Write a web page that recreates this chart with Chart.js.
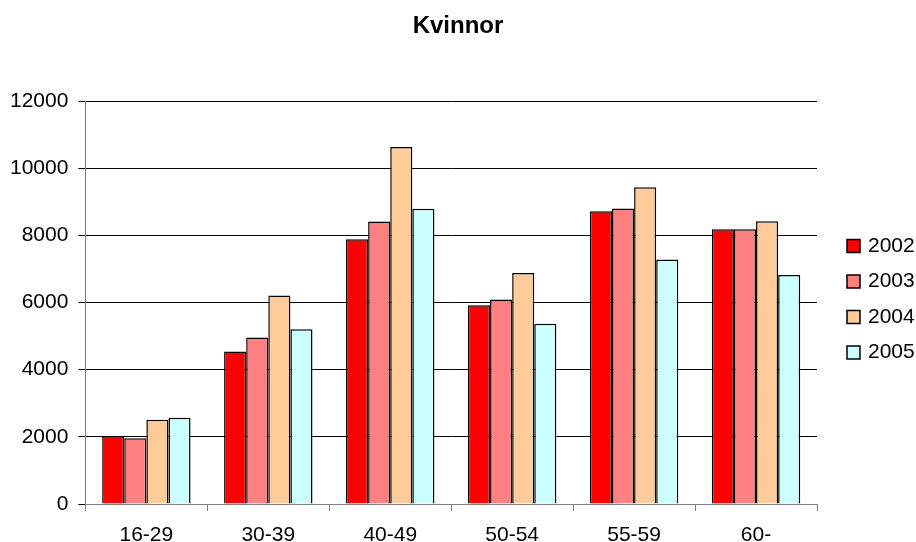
<!DOCTYPE html>
<html>
<head>
<meta charset="utf-8">
<script src="https://cdn.jsdelivr.net/npm/chart.js@4/dist/chart.umd.min.js"></script>
<style>
  html, body { margin: 0; padding: 0; background: #fff; }
  #wrap { width: 916px; height: 542px; }
</style>
</head>
<body>
<div id="wrap"><canvas id="myChart" width="916" height="542"></canvas></div>
<script>
// data
const categories = ['16-29', '30-39', '40-49', '50-54', '55-59', '60-'];
const years = ['2002', '2003', '2004', '2005'];
const values2002 = [2020, 4540, 7880, 5920, 8720, 8180];
const values2003 = [1960, 4960, 8410, 6090, 8800, 8180];
const values2004 = [2510, 6210, 10630, 6880, 9430, 8420];
const values2005 = [2570, 5200, 8790, 5370, 7280, 6820];
const yTicks = [0, 2000, 4000, 6000, 8000, 10000, 12000];
const titleText = 'Kvinnor';

const colors = ['#ff0000', '#ff8080', '#ffcc99', '#ccffff'];
const font = 'Arial, "Liberation Sans", sans-serif';

// title centred on the whole canvas + legend on the right, drawn by hand
const sideLegend = {
    id: 'sideLegend',
    afterDraw(chart) {
        const ctx = chart.ctx;
        ctx.save();
        ctx.fillStyle = '#000';
        ctx.font = 'bold 24px ' + font;
        ctx.textAlign = 'center';
        ctx.textBaseline = 'middle';
        ctx.fillText(titleText, chart.width / 2, 26);

        ctx.textAlign = 'left';
        ctx.font = '21px ' + font;
        chart.data.datasets.forEach((ds, i) => {
            const y = 246 + i * 35.5;
            ctx.fillStyle = ds.backgroundColor;
            ctx.fillRect(847, y - 6.5, 13, 13);
            ctx.strokeStyle = '#000';
            ctx.lineWidth = 1.5;
            ctx.strokeRect(847, y - 6.5, 13, 13);
            ctx.fillStyle = '#000';
            ctx.fillText(ds.label, 868, y);
        });
        ctx.restore();
    }
};

const seriesValues = [values2002, values2003, values2004, values2005];

const data = {
    labels: categories,
    datasets: years.map((y, i) => ({
        label: y,
        data: seriesValues[i],
        backgroundColor: colors[i],
        borderColor: '#000',
        borderWidth: 1.5,
        categoryPercentage: 0.725,
        barPercentage: 1
    }))
};

const config = {
    type: 'bar',
    data: data,
    options: {
        responsive: false,
        animation: false,
        layout: { padding: { left: 0, right: 99, top: 101, bottom: -18 } },
        plugins: {
            legend: { display: false },
            tooltip: { enabled: false },
            title: { display: false }
        },
        scales: {
            x: {
                grid: {
                    drawOnChartArea: false,
                    color: '#808080',
                    tickLength: 7,
                    offset: true
                },
                border: { color: '#808080', width: 1 },
                ticks: {
                    color: '#000',
                    padding: 14,
                    font: { family: font, size: 21, lineHeight: 1 }
                }
            },
            y: {
                min: 0,
                max: 12000,
                afterBuildTicks(scale) {
                    scale.ticks = yTicks.map(v => ({ value: v }));
                },
                grid: { color: '#000', tickLength: 7 },
                border: { color: '#808080', width: 1 },
                ticks: {
                    color: '#000',
                    padding: 10,
                    font: { family: font, size: 21 },
                    callback: v => String(v)
                }
            }
        }
    },
    plugins: [sideLegend]
};

new Chart(document.getElementById('myChart').getContext('2d'), config);
</script>
</body>
</html>
